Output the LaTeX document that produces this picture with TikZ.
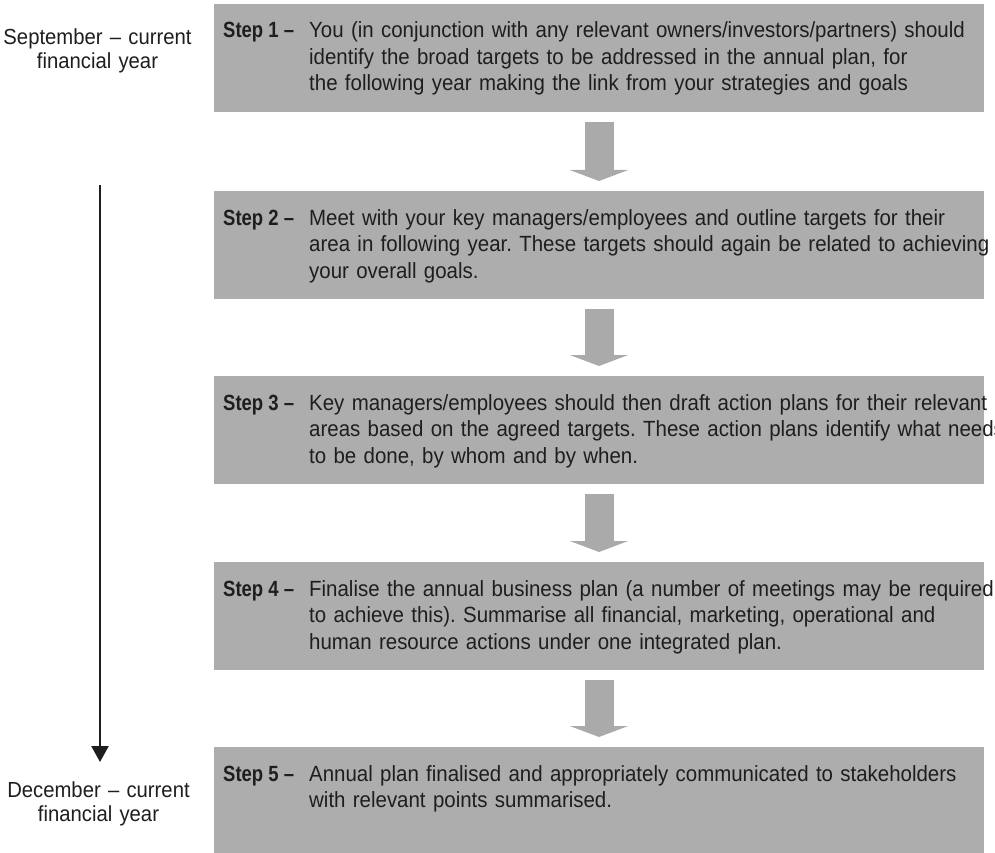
\documentclass[tikz,border=0pt]{standalone}
\usepackage{fontspec}
\setmainfont{Liberation Sans}[FakeStretch=0.93, BoldFeatures={FakeStretch=0.84}]
\usetikzlibrary{arrows.meta,calc}
\frenchspacing

\definecolor{boxgray}{RGB}{173,173,173}
\definecolor{arrowgray}{RGB}{170,170,170}
\definecolor{ink}{RGB}{30,30,30}

\tikzset{
  stepbox/.style={rectangle, fill=boxgray, draw=none, inner sep=0pt,
    minimum width=770pt, minimum height=108pt, anchor=north west},
  steplabel/.style={inner sep=0pt, anchor=base west, text=ink,
    font=\fontsize{22}{26.5}\selectfont\bfseries},
  steptext/.style={inner sep=0pt, anchor=base west, text=ink, align=left,
    text width=720pt, font=\fontsize{22}{26.5}\selectfont},
  datelabel/.style={inner sep=0pt, anchor=base, text=ink, align=center,
    text width=200pt, font=\fontsize{21.8}{24}\selectfont},
  flowarrow/.style={draw=arrowgray, line width=29pt,
    -{Triangle[width=58pt,length=11pt,fill=arrowgray]}},
  timeline/.style={draw=ink, line width=2.4pt,
    -{Triangle[width=17pt,length=16pt]}}
}

\begin{document}
\begin{tikzpicture}[x=1pt,y=-1pt]
\useasboundingbox (0,0) rectangle (995,853);

% step boxes
\node[stepbox] (b1) at (214,4) {};
\node[stepbox] (b2) at (214,191) {};
\node[stepbox] (b3) at (214,376) {};
\node[stepbox] (b4) at (214,562) {};
\node[stepbox] (b5) at (214,747) {};

% step texts
\node[steplabel] (l1) at (223,38) {Step 1 –};
\node[steptext] (t1) at (309,38) {You (in conjunction with any relevant owners/investors/partners) should\\
identify the broad targets to be addressed in the annual plan, for\\
the following year making the link from your strategies and goals};

\node[steplabel] (l2) at (223,225) {Step 2 –};
\node[steptext] (t2) at (309,225) {Meet with your key managers/employees and outline targets for their\\
area in following year. These targets should again be related to achieving\\
your overall goals.};

\node[steplabel] (l3) at (223,410) {Step 3 –};
\node[steptext] (t3) at (309,410) {Key managers/employees should then draft action plans for their relevant\\
areas based on the agreed targets. These action plans identify what needs\\
to be done, by whom and by when.};

\node[steplabel] (l4) at (223,596) {Step 4 –};
\node[steptext] (t4) at (309,596) {Finalise the annual business plan (a number of meetings may be required\\
to achieve this). Summarise all financial, marketing, operational and\\
human resource actions under one integrated plan.};

\node[steplabel] (l5) at (223,781) {Step 5 –};
\node[steptext] (t5) at (309,781) {Annual plan finalised and appropriately communicated to stakeholders\\
with relevant points summarised.};

% arrows between steps
\foreach \a/\b in {b1/b2,b2/b3,b3/b4,b4/b5}
  \draw[flowarrow] ($(\a.south west)+(385pt,-10pt)$) -- ($(\b.north west)+(385pt,10pt)$);

% timeline on the left
\node[datelabel] (sep) at (97.5,45) {September – current\\financial year};
\node[datelabel] (dec) at (98.5,797) {December – current\\financial year};
\coordinate (tstart) at (100,185);
\coordinate (tend) at (100,762);
\draw[timeline] (tstart) -- (tend);
\end{tikzpicture}
\end{document}
